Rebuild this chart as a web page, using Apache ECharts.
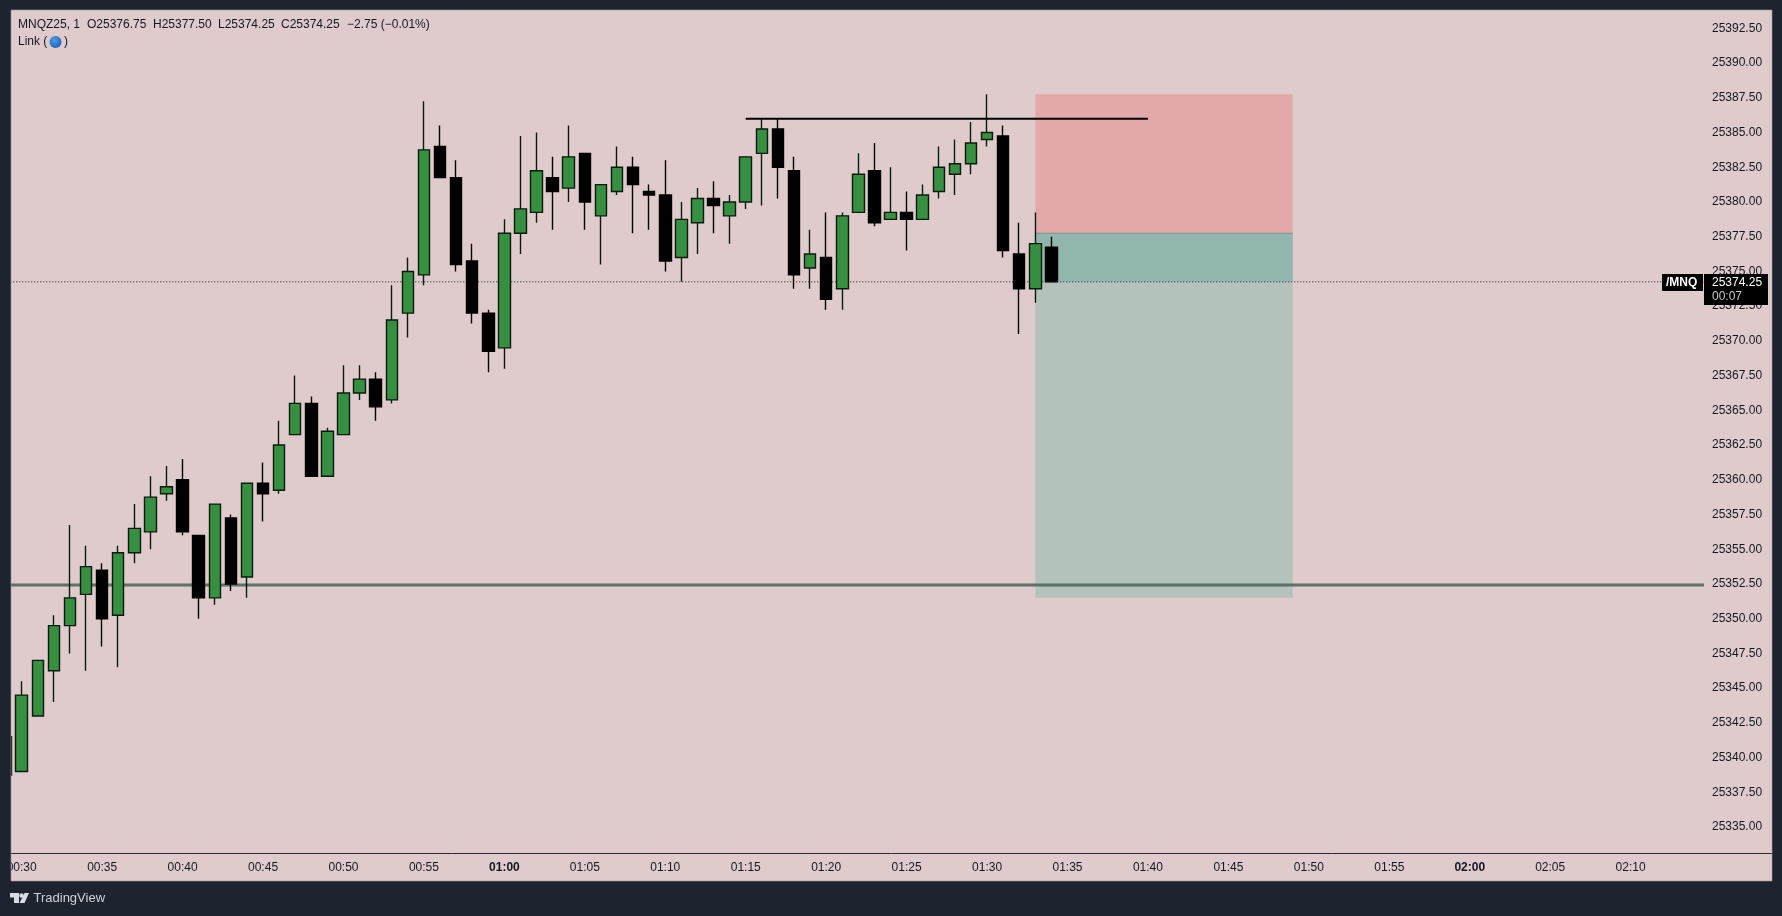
<!DOCTYPE html>
<html><head><meta charset="utf-8">
<style>html,body{margin:0;padding:0;background:#1e2330}#c{width:1782px;height:916px}</style>
<script src="https://cdn.jsdelivr.net/npm/echarts@6/dist/echarts.min.js"></script>
</head><body><div id="c"></div>
<script>
const minutes=[29,30,31,32,33,34,35,36,37,38,39,40,41,42,43,44,45,46,47,48,49,50,51,52,53,54,55,56,57,58,59,60,61,62,63,64,65,66,67,68,69,70,71,72,73,74,75,76,77,78,79,80,81,82,83,84,85,86,87,88,89,90,91,92,93,94];
const opens=[25341.5,25339,25343,25346.25,25349.5,25351.75,25353.5,25350.25,25354.75,25356.25,25359,25360,25356,25351.5,25357.25,25353,25359.75,25359.25,25363.25,25365.5,25360.25,25363.25,25366.25,25367.25,25365.75,25372,25374.75,25384,25381.75,25375.75,25372,25369.5,25377.75,25379.25,25381.75,25381,25383.5,25379,25380.75,25382.5,25380.75,25380.5,25376,25378.5,25380.25,25379,25380,25383.5,25385.25,25382.25,25375.25,25376,25373.75,25379.25,25382.25,25378.75,25379.25,25378.75,25380.75,25382,25382.75,25384.5,25384.75,25376.25,25373.75,25376.75];
const highs=[25341.5,25345.5,25347,25350.25,25356.75,25355.25,25354,25355.25,25358.25,25360.25,25361,25361.5,25356,25358.25,25357.5,25359.75,25361.25,25364.25,25367.5,25366,25363.75,25368.25,25368.25,25367.75,25374,25376,25387.25,25385.5,25383,25377,25372.25,25378.75,25384.75,25385,25383.25,25385.5,25383.5,25381.25,25384,25383.25,25381.25,25383,25380,25381,25381.5,25380.5,25383.25,25386,25386,25383.25,25378,25379.25,25379.25,25383.5,25384.25,25382.5,25380.75,25381.25,25384,25384.5,25385.75,25387.75,25385.5,25378.5,25379.25,25377.5];
const lows=[25338.75,25339,25343,25344,25347.5,25346.25,25348,25346.5,25354,25355,25358.5,25356,25350,25351,25352,25351.5,25357,25359,25363.25,25360.25,25360.25,25363.25,25365.75,25364.25,25365.5,25370.25,25374,25381.75,25375,25371.25,25367.75,25368,25376.25,25378.5,25378,25380,25378,25375.5,25380.5,25377.75,25378,25375,25374.25,25376.25,25377.75,25377,25379.5,25379.75,25380.25,25373.75,25373.75,25372.25,25372.25,25379.25,25378.25,25378.75,25376.5,25378.75,25380.25,25380.5,25382,25384,25376,25370.5,25372.75,25374.25];
const closes=[25338.75,25344.5,25347,25349.5,25351.5,25353.75,25350,25354.75,25356.5,25358.75,25359.5,25356.25,25351.5,25358.25,25352.5,25359.75,25359,25362.5,25365.5,25360.25,25363.5,25366.25,25367.25,25365.25,25371.5,25375,25383.75,25381.75,25375.5,25372,25369.25,25377.75,25379.5,25382.25,25380.75,25383.25,25380,25381.25,25382.5,25381.25,25380.5,25375.75,25378.75,25380.25,25379.75,25380,25383.25,25385.25,25382.5,25374.75,25376.25,25373,25379,25382,25378.5,25379.25,25378.75,25380.5,25382.5,25382.75,25384.25,25385,25376.5,25373.75,25377,25374.25];
const lastPrice=25374.25, supportLevel=25352.43, resistanceLevel=25386;
const resistanceFrom=75, resistanceTo=100;
const boxFrom=93, boxTo=109, boxTop=25387.75, boxEntry=25377.75, boxBottom=25351.5;
const headerTexts=[["MNQZ25, 1",18],["O25376.75",87],["H25377.50",153],["L25374.25",218],["C25374.25",281],["\u22122.75 (\u22120.01%)",347]];

const xMin=25,xMax=134.56,yMin=25332.5,yMax=25393.82;
const INK='#131722',DARK='#1e2330',PANEL='#dfcbcb';
const FONT='"Liberation Sans",Arial,sans-serif';
const candles=minutes.map((m,i)=>[m,opens[i],closes[i],lows[i],highs[i]]);
function hline(y,from,to,color,width,type,z){
  return {type:'line',data:[[from,y],[to,y]],showSymbol:false,silent:true,z:z,animation:false,
    lineStyle:{color:color,width:width,type:type}};
}
const txt=(x,y,t,o)=>({type:'text',z:200,silent:true,x:x,y:y,style:Object.assign({text:t,fill:INK,font:'12px '+FONT,textVerticalAlign:'middle'},o||{})});
const rect=(x,y,w,h,fill)=>({type:'rect',z:150,silent:true,shape:{x,y,width:w,height:h},style:{fill}});

const chart=echarts.init(document.getElementById('c'),null,{renderer:'canvas'});
chart.setOption({
  animation:false,
  backgroundColor:PANEL,
  grid:{left:-58.75,top:10,width:1762.75,bottom:54.2,containLabel:false,outerBoundsMode:'none'},
  xAxis:{type:'value',min:xMin,max:xMax,interval:5,scale:true,
    axisLine:{show:false},axisTick:{show:false},splitLine:{show:false},
    axisLabel:{showMaxLabel:false,margin:0,fontFamily:FONT,fontSize:12,color:INK,hideOverlap:false,
      formatter:v=>{ if(v%5!==0)return ''; const h=Math.floor(v/60),mm=v%60;
        const s=String(h).padStart(2,'0')+':'+String(mm).padStart(2,'0');
        return mm===0?'{b|'+s+'}':s; },
      rich:{b:{fontWeight:'bold',fontSize:12,fontFamily:FONT,color:INK}}}},
  yAxis:{type:'value',position:'right',min:yMin,max:yMax,interval:2.5,scale:true,
    axisLine:{show:false},axisTick:{show:false},splitLine:{show:false},
    axisLabel:{showMinLabel:false,showMaxLabel:false,margin:8,fontFamily:FONT,fontSize:12,color:INK,padding:[2,0,0,0],
      formatter:v=>v.toFixed(2)}},
  series:[
    {type:'line',data:[],silent:true,z:1,
      markArea:{silent:true,data:[
        [{xAxis:boxFrom,yAxis:boxTop,itemStyle:{color:'#e3a9aa'}},{xAxis:boxTo,yAxis:boxEntry}],
        [{xAxis:boxFrom,yAxis:boxEntry,itemStyle:{color:'#91b6ae'}},{xAxis:boxTo,yAxis:lastPrice}],
        [{xAxis:boxFrom,yAxis:lastPrice,itemStyle:{color:'#b3c3bb'}},{xAxis:boxTo,yAxis:boxBottom}]
      ]}},
    hline(boxEntry,boxFrom,boxTo,'#7f8f8c',1,'solid',2),
    hline(supportLevel,xMin,xMax,'#5f7267',3,'solid',3),
    hline(lastPrice,xMin,xMax,'#131722',1,[1,2],3),
    {type:'candlestick',data:candles,encode:{x:0,y:[1,2,3,4]},barWidth:12,z:5,silent:true,clip:true,
      itemStyle:{color:'#378f41',color0:'#000000',borderColor:'#0a1a0c',borderColor0:'#000000',borderWidth:1.4}},
    hline(resistanceLevel,resistanceFrom,resistanceTo,'#000000',2,'solid',6)
  ],
  graphic:{elements:[
    rect(0,0,1782,10,DARK),rect(0,0,11,916,DARK),rect(1772,0,10,916,DARK),rect(0,881,1782,35,DARK),
    {type:'rect',z:151,silent:true,shape:{x:11,y:10,width:1761,height:871},style:{fill:'none',stroke:'#9c9aa0',lineWidth:1,opacity:0.6}},
    {type:'line',z:140,silent:true,shape:{x1:11,y1:853.5,x2:1772,y2:853.5},style:{stroke:'#2a2a33',lineWidth:1}},
    ...headerTexts.map(h=>txt(h[1],25,h[0])),
    txt(18,42,'Link ('),
    {type:'circle',z:200,silent:true,shape:{cx:55.5,cy:42,r:6},style:{fill:new echarts.graphic.RadialGradient(0.4,0.35,0.7,[{offset:0,color:'#4b9be8'},{offset:1,color:'#1f5fb8'}])}},
    txt(64,42,')'),
    rect(1662,274,41,17,'#000000'),
    txt(1666,282.5,'/MNQ',{fill:'#ffffff',font:'bold 12px '+FONT}),
    rect(1704,274,64,31,'#000000'),
    txt(1712,282.5,'25374.25',{fill:'#ffffff'}),
    txt(1712,296.5,'00:07',{fill:'#c9c9c9'}),
    {type:'polygon',z:200,silent:true,shape:{points:[[10,893],[19,893],[19,903],[14,903],[14,897.5],[10,897.5]]},style:{fill:'#d8dbe2'}},
    {type:'circle',z:200,silent:true,shape:{cx:21.5,cy:895.5,r:2.2},style:{fill:'#d8dbe2'}},
    {type:'polygon',z:200,silent:true,shape:{points:[[24.5,893],[29,893],[24.5,903],[19.5,903]]},style:{fill:'#d8dbe2'}},
    txt(33.5,898.5,'TradingView',{fill:'#cfd2d9',font:'13px '+FONT})
  ]}
});
</script></body></html>
